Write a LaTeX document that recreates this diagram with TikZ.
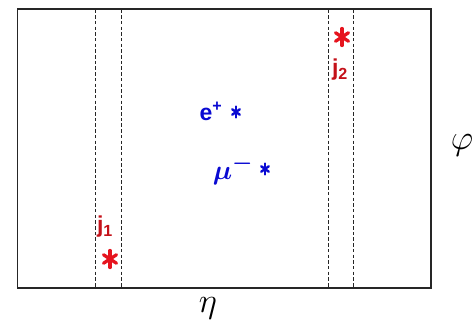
\documentclass[tikz,border=0pt]{standalone}
\usepackage{graphicx}
\usepackage{fontspec}
\newfontfamily\labfont{Liberation Sans}
\definecolor{jetred}{RGB}{230,20,30}
\definecolor{lepblue}{RGB}{10,10,210}
\usetikzlibrary{calc}
\tikzset{
  frame/.style={draw=black!85, line width=1.3pt},
  cone/.style={draw=black!85, line width=1pt, dash pattern=on 3.5pt off 2.2pt},
  jetlab/.style={text=jetred!85!black, font=\labfont\bfseries\fontsize{23}{23}\selectfont, inner sep=0pt},
  leplab/.style={text=lepblue, font=\labfont\bfseries\fontsize{23}{23}\selectfont, inner sep=0pt},
  axlab/.style={text=black, font=\fontsize{24.88}{25}\selectfont, inner sep=0pt}
}
\newcommand{\myast}[4]{% center, half-width, half-height, style
  \draw[#4, line cap=round] ($#1+(0,-#3)$) -- ($#1+(0,#3)$);
  \draw[#4, line cap=round] ($#1+(-#2,-#3*0.5)$) -- ($#1+(#2,#3*0.5)$);
  \draw[#4, line cap=round] ($#1+(-#2,#3*0.5)$) -- ($#1+(#2,-#3*0.5)$);
}
\begin{document}
\begin{tikzpicture}[x=1pt,y=-1pt]
\useasboundingbox (0,0) rectangle (474,323);
% frame
\coordinate (TL) at (17.5,9);
\coordinate (BR) at (431,288);
\draw[frame] (TL) rectangle (BR);
\draw[frame, line width=1.8pt] (TL |- BR) -- (BR);
% dashed cone boundaries
\foreach \x [count=\i] in {95.7,121,328,353.3}{
  \coordinate (ct\i) at (\x,9.5);
  \coordinate (cb\i) at (\x,287.5);
  \draw[cone] (ct\i) -- (cb\i);
}
% jets
\node[jetlab] (j1) at (105,227) {j\textsubscript{1}};
\node[jetlab] (j2) at (340,70) {j\textsubscript{2}};
\coordinate (s1) at (110,259);
\coordinate (s2) at (342,37);
\myast{(s1)}{6.5}{8.5}{draw=jetred, line width=3.3pt}
\myast{(s2)}{6.5}{8.5}{draw=jetred, line width=3.3pt}
% leptons
\node[leplab] (ep) at (211,111) {e\textsuperscript{+}};
\node[leplab, font=\boldmath\fontsize{24.88}{25}\selectfont] (mu) at (233,170) {\scalebox{1.1}{$\mu^{-}$}};
\coordinate (s3) at (236,112);
\coordinate (s4) at (265,169);
\myast{(s3)}{3.8}{5.5}{draw=lepblue, line width=2.4pt}
\myast{(s4)}{3.8}{5.5}{draw=lepblue, line width=2.4pt}
% axis labels
\node[axlab] (phi) at (462,145) {\scalebox{1.4}{$\varphi$}};
\node[axlab] (eta) at (208,308) {\scalebox{1.4}{$\eta$}};
\end{tikzpicture}
\end{document}
